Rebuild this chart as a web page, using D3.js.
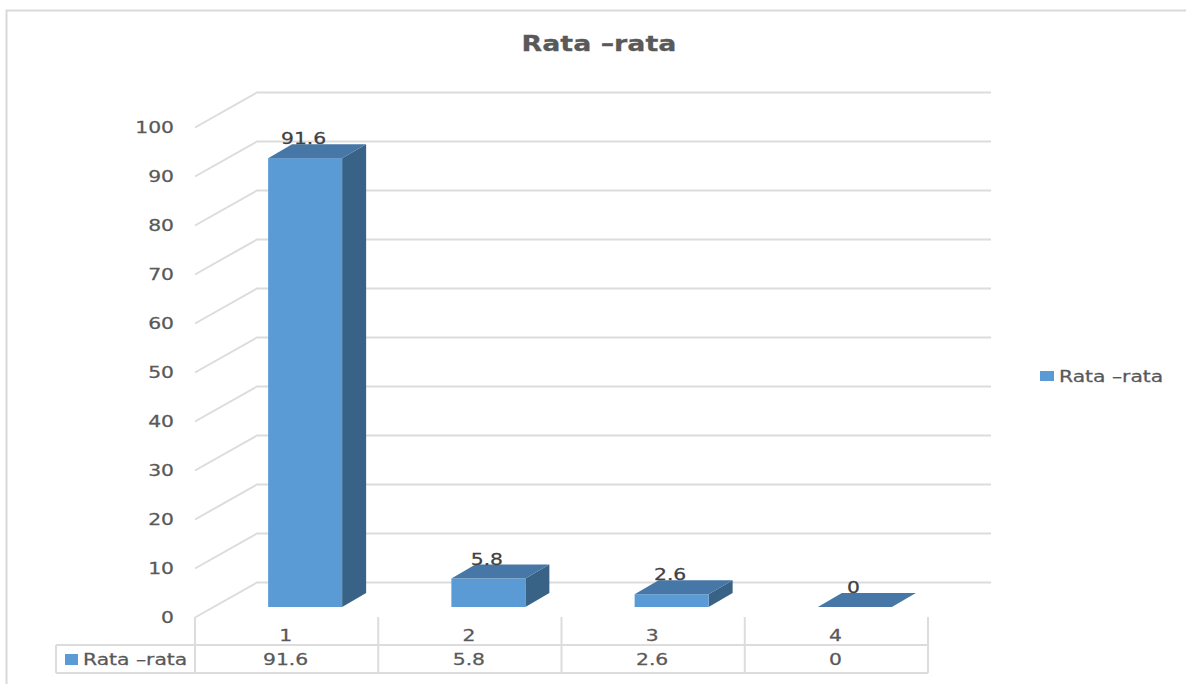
<!DOCTYPE html>
<html><head><meta charset="utf-8">
<script src="https://cdn.jsdelivr.net/npm/d3@7"></script>
<style>html,body{margin:0;background:#fff}svg{display:block}text{font-family:"DejaVu Sans",sans-serif;fill:#595959;stroke:#595959;stroke-width:.25}</style>
</head><body><svg id="c" width="1186" height="684"></svg>
<script>
const categories=["1","2","3","4"];
const values=[91.6,5.8,2.6,0];
const valueLabels=["91.6","5.8","2.6","0"];
const ticks=[0,10,20,30,40,50,60,70,80,90,100];
const seriesName="Rata \u2013rata";
const title="Rata \u2013rata";
const svg=d3.select("#c");
const grid="#dcdcdc",front="#5b9bd5",top_="#4677a6",side="#386286";
const x=d3.scaleBand().domain(categories).range([195,928]);
const y=d3.scaleLinear().domain([0,100]).range([617.5,127.5]);
const wall={dx:62,dy:-35},fr={dx:18.5,dy:-10.5},bk={dx:42.5,dy:-24.5},barW=74;
const SX=1.31;
function label(px,py,s,o={}){
 const t=svg.append("text").attr("transform",`translate(${px},${py}) scale(${o.sx||SX},1)`)
  .attr("text-anchor",o.anchor||"middle").attr("font-size",o.size||15.5).text(s);
 if(o.weight)t.attr("font-weight",o.weight);
 if(o.color)t.style("fill",o.color).style("stroke",o.color);
 return t;
}

svg.append("path").attr("d","M6.5,684V10.5H1186").attr("fill","none").attr("stroke","#d9d9d9").attr("stroke-width",2);
label(599,51,title,{size:21,weight:"bold",sx:1.28});

const g=svg.append("g").attr("fill","none").attr("stroke",grid).attr("stroke-width",2);
ticks.forEach(t=>{
 g.append("path").attr("d",d3.line()([[195,y(t)],[195+wall.dx,y(t)+wall.dy],[991,y(t)+wall.dy]]));
});
ticks.forEach(t=>label(174,y(t)+5.5,t,{anchor:"end"}));

const tb=svg.append("g").attr("fill","none").attr("stroke",grid).attr("stroke-width",2);
x.domain().forEach(c=>tb.append("path").attr("d",`M${x(c)},617V673`));
tb.append("path").attr("d","M928,617V673");
tb.append("path").attr("d","M56,645H928M56,673H928M56,645V673");

categories.forEach((c,i)=>{
 const x0=x(c)+(x.bandwidth()-barW)/2+fr.dx, v=values[i];
 const yb=y(0)+fr.dy, yt=y(v)+fr.dy, ddx=bk.dx-fr.dx, ddy=bk.dy-fr.dy;
 const poly=(pts,col)=>svg.append("polygon").attr("points",pts.join(" ")).attr("fill",col);
 if(v>0){
  poly([[x0+barW,yb],[x0+barW+ddx,yb+ddy],[x0+barW+ddx,yt+ddy],[x0+barW,yt]],side);
  svg.append("rect").attr("x",x0).attr("y",yt).attr("width",barW).attr("height",yb-yt).attr("fill",front);
 }
 poly([[x0,yt],[x0+ddx,yt+ddy],[x0+barW+ddx,yt+ddy],[x0+barW,yt]],top_);
 label(x0+barW/2-1.5,yt-14,valueLabels[i],{color:"#404040"});
 label(x(c)+x.bandwidth()/2-1,641,c);
 label(x(c)+x.bandwidth()/2-1,665,valueLabels[i]);
});

svg.append("rect").attr("x",65).attr("y",654).attr("width",13).attr("height",11).attr("fill",front);
label(83,665,seriesName,{anchor:"start"});
svg.append("rect").attr("x",1040).attr("y",371).attr("width",14).attr("height",10).attr("fill",front);
label(1059,382,seriesName,{anchor:"start"});
</script></body></html>
